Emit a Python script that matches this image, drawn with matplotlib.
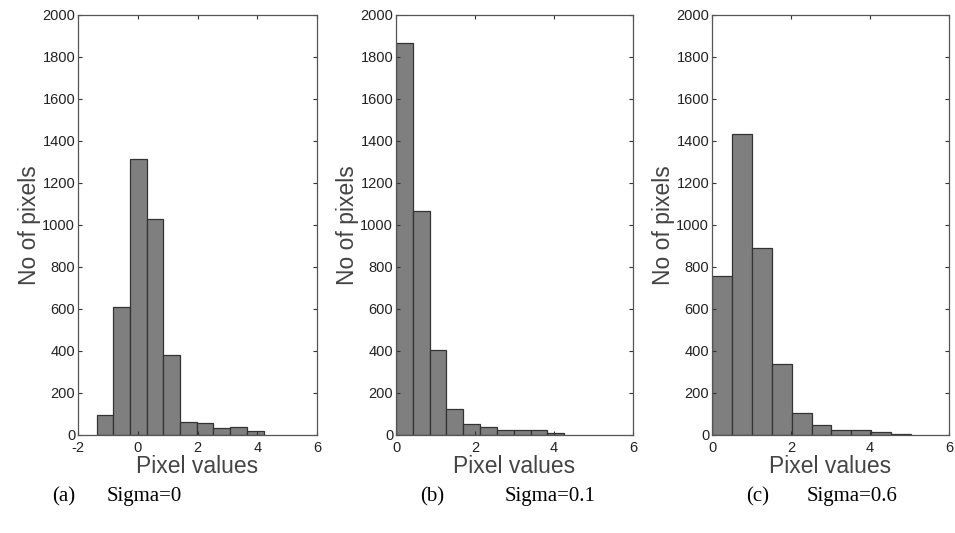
import matplotlib
matplotlib.use("Agg")
import matplotlib.pyplot as plt
import numpy as np

plt.rcParams["axes.unicode_minus"] = False

# histogram bin edges and counts
edges_a = [-1.38, -0.82, -0.26, 0.30, 0.86, 1.42, 1.97, 2.53, 3.09, 3.65, 4.21]
counts_a = [95, 608, 1313, 1029, 381, 60, 56, 32, 38, 21]

edges_b = [0.0, 0.426, 0.852, 1.278, 1.704, 2.13, 2.556, 2.982, 3.408, 3.834, 4.26]
counts_b = [1866, 1066, 403, 124, 51, 38, 25, 25, 25, 8]

edges_c = [0.0, 0.504, 1.008, 1.512, 2.016, 2.52, 3.024, 3.528, 4.032, 4.536, 5.04]
counts_c = [757, 1433, 889, 336, 103, 46, 25, 22, 13, 5]

xlims = [(-2, 6), (0, 6), (0, 6)]
xticks = [[-2, 0, 2, 4, 6], [0, 2, 4, 6], [0, 2, 4, 6]]
yticks = [0, 200, 400, 600, 800, 1000, 1200, 1400, 1600, 1800, 2000]
tags = ["(a)", "(b)", "(c)"]
sigmas = ["Sigma=0", "Sigma=0.1", "Sigma=0.6"]

fig = plt.figure(figsize=(9.55, 5.33), dpi=100)
sans = "Liberation Sans"
serif = "Liberation Serif"

# axes boxes in figure fractions
lefts = [78 / 955, 396 / 955, 712 / 955]
widths = [239 / 955, 237 / 955, 237 / 955]
bottom = 98 / 533
height = 420 / 533

data = [(edges_a, counts_a), (edges_b, counts_b), (edges_c, counts_c)]
tag_x = [64, 432, 758]
sig_x = [107, 505, 807]

for i, (edges, counts) in enumerate(data):
    ax = fig.add_axes([lefts[i], bottom, widths[i], height])
    e = np.array(edges)
    ax.bar(e[:-1], counts, width=np.diff(e), align="edge",
           color="#7f7f7f", edgecolor="#333333", linewidth=0.9)
    ax.set_xlim(*xlims[i])
    ax.set_ylim(0, 2000)
    ax.set_xticks(xticks[i])
    ax.set_yticks(yticks)
    ax.tick_params(direction="in", length=3, width=0.8, top=True, right=True,
                   labelsize=10.5, colors="#333333")
    ax.tick_params(axis="x", pad=4)
    ax.tick_params(axis="y", pad=2)
    for lab in ax.get_xticklabels() + ax.get_yticklabels():
        lab.set_fontfamily(sans)
        lab.set_color("#222222")
    for sp in ax.spines.values():
        sp.set_color("#555555")
        sp.set_linewidth(0.9)
    ax.set_xlabel("Pixel values", fontfamily=sans, fontsize=16.5,
                  color="#444444", labelpad=0)
    ax.set_ylabel("No of pixels", fontfamily=sans, fontsize=16.5,
                  color="#444444", labelpad=1)
    fig.text(tag_x[i] / 955, 1 - 497 / 533, tags[i], fontfamily=serif,
             fontsize=15, ha="center", va="center")
    fig.text(sig_x[i] / 955, 1 - 497 / 533, sigmas[i], fontfamily=serif,
             fontsize=15, ha="left", va="center")

fig.savefig("out.png", dpi=100, facecolor="white")
